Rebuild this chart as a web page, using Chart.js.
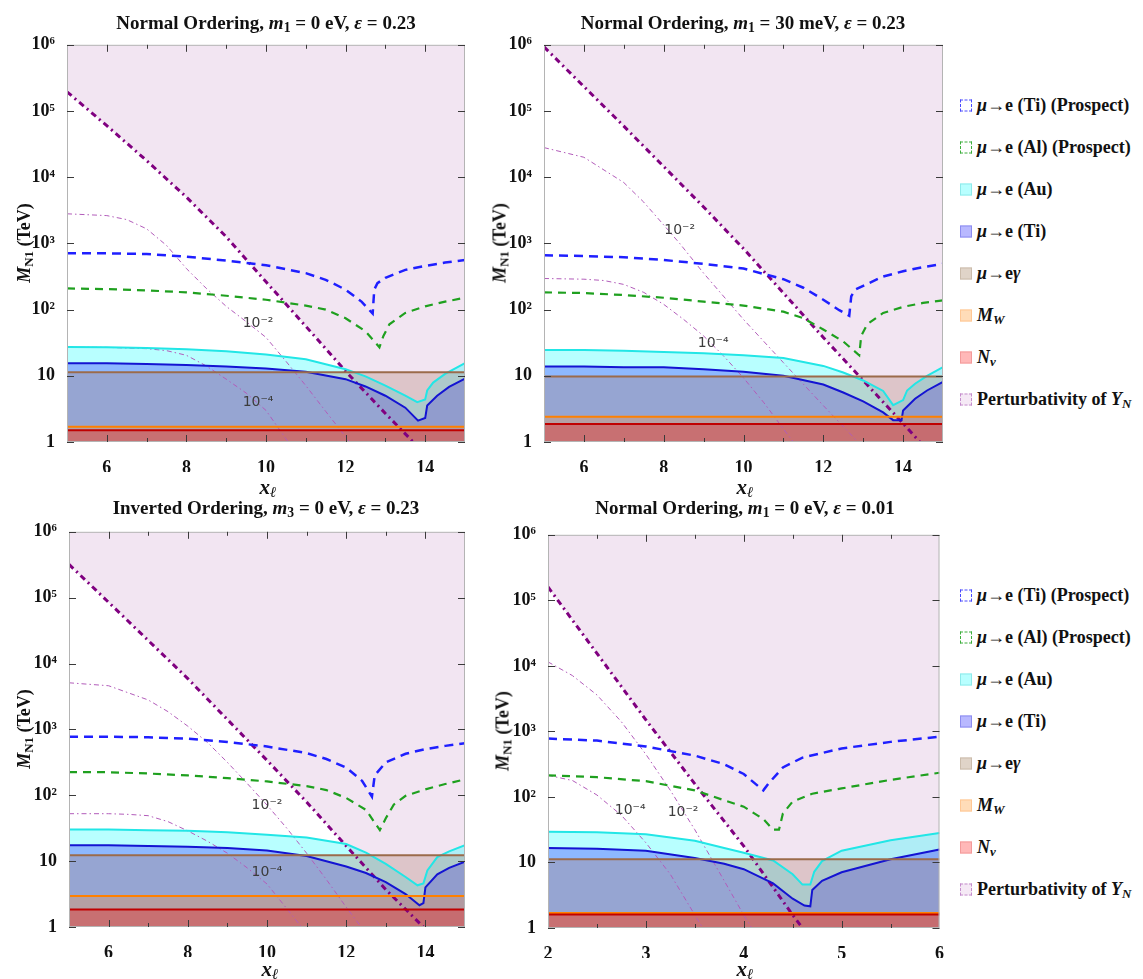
<!DOCTYPE html>
<html>
<head>
<meta charset="utf-8">
<script src="https://cdn.jsdelivr.net/npm/chart.js@4.4.1/dist/chart.umd.min.js"></script>
<style>
    body {
        margin: 0;
        width: 1143px;
        height: 979px;
        position: relative;
        overflow: hidden;
        background: #fff;
        color: #111;
        font-family: "Liberation Serif", "Times New Roman", serif;
        font-weight: bold;
    }
    canvas { position: absolute; }
    sub { font-size: 0.72em; vertical-align: -0.25em; line-height: 0; }
    .title { position: absolute; font-size: 19px; white-space: nowrap; transform: translate(-50%, -50%); }
    .ylab { position: absolute; font-size: 18px; white-space: nowrap; transform: translate(-50%, -50%) rotate(-90deg); }
    .xlab { position: absolute; font-size: 21px; font-style: italic; white-space: nowrap; transform: translate(-50%, -50%); }
    .item { position: absolute; left: 960px; font-size: 18px; white-space: nowrap; display: flex; align-items: center; transform: translateY(-50%); }
    .box { width: 12px; height: 12px; box-sizing: border-box; margin-right: 5px; }
</style>
</head>
<body>

<canvas id="c1" width="475" height="442" style="left:0px;top:30px"></canvas>
<canvas id="c2" width="476" height="442" style="left:477px;top:30px"></canvas>
<canvas id="c3" width="473" height="440" style="left:2px;top:517px"></canvas>
<canvas id="c4" width="471" height="438" style="left:481px;top:520px"></canvas>

<div class="title" style="left:266px;top:23px">Normal Ordering, <i>m</i><sub>1</sub> = 0 eV, <i>ε</i> = 0.23</div>
<div class="title" style="left:743px;top:23px">Normal Ordering, <i>m</i><sub>1</sub> = 30 meV, <i>ε</i> = 0.23</div>
<div class="title" style="left:266px;top:508px">Inverted Ordering, <i>m</i><sub>3</sub> = 0 eV, <i>ε</i> = 0.23</div>
<div class="title" style="left:745px;top:508px">Normal Ordering, <i>m</i><sub>1</sub> = 0 eV, <i>ε</i> = 0.01</div>

<div class="ylab" style="left:24px;top:243px"><i>M</i><sub>N1</sub> (TeV)</div>
<div class="ylab" style="left:500px;top:243px"><i>M</i><sub>N1</sub> (TeV)</div>
<div class="ylab" style="left:24px;top:729px"><i>M</i><sub>N1</sub> (TeV)</div>
<div class="ylab" style="left:503px;top:731px"><i>M</i><sub>N1</sub> (TeV)</div>

<div class="xlab" style="left:268px;top:487px">x<sub>ℓ</sub></div>
<div class="xlab" style="left:745px;top:487px">x<sub>ℓ</sub></div>
<div class="xlab" style="left:270px;top:969px">x<sub>ℓ</sub></div>
<div class="xlab" style="left:745px;top:969px">x<sub>ℓ</sub></div>

<script>
/* ===============================
   axes
=============================== */

const xTicksWide = [6, 8, 10, 12, 14];
const xMinorWide = [6, 7, 8, 9, 10, 11, 12, 13, 14];
const xTicksNarrow = [2, 3, 4, 5, 6];
const xMinorNarrow = [2.5, 3, 3.5, 4, 4.5, 5, 5.5];
const yTickValues = [1, 10, 100, 1e3, 1e4, 1e5, 1e6];
const yTickLabels = ["1", "10", "10²", "10³", "10⁴", "10⁵", "10⁶"];

/* ===============================
   panel 1 : NO, m1 = 0 eV, eps = 0.23
=============================== */

const p1Perturb = [[5, 1.95e5], [6, 6.0e4], [7, 1.78e4], [8, 5.0e3], [9, 1.26e3], [10, 263], [11, 56], [12, 11.7], [13, 2.7], [13.7, 1.0], [15, 0.14]];
const p1Contour2 = [[5, 2800], [6, 2630], [6.5, 2290], [7, 1660], [7.5, 933], [8, 417], [8.5, 209], [9, 112], [9.5, 66], [10, 38], [10.5, 16.6], [11, 7.1], [11.5, 2.9], [12, 1.2], [12.3, 0.7]];
const p1Contour4 = [[5, 26.9], [6, 26.9], [7, 25.7], [7.5, 24], [8, 20.4], [8.5, 14.1], [9, 8.9], [9.5, 5.5], [10, 3.0], [10.5, 1.12], [10.8, 0.63]];
const p1TiProspect = [[5, 708], [6, 708], [7, 692], [8, 631], [9, 550], [10, 468], [11, 355], [11.5, 282], [12, 200], [12.4, 132], [12.68, 87], [12.72, 200], [12.8, 251], [13, 302], [13.5, 398], [14, 457], [14.5, 513], [15, 562]];
const p1AlProspect = [[5, 209], [6, 204], [7, 195], [8, 182], [9, 162], [10, 141], [11, 115], [11.5, 100], [12, 74], [12.5, 47], [12.85, 27], [12.95, 40], [13.1, 60], [13.5, 89], [14, 112], [14.5, 132], [15, 151]];
const p1Au = [[5, 27.2], [6, 26.9], [7, 26.3], [8, 25.1], [9, 23.4], [10, 20.9], [11, 17.8], [12, 12.6], [12.5, 9.8], [13, 7.1], [13.5, 5.0], [13.8, 4.0], [14, 4.4], [14.05, 6.0], [14.2, 7.9], [14.5, 10.7], [15, 15.5]];
const p1Ti = [[5, 15.5], [6, 15.5], [7, 15.1], [8, 14.5], [9, 13.8], [10, 12.9], [11, 11.5], [12, 8.9], [12.5, 6.9], [13, 5.0], [13.5, 3.3], [13.82, 2.1], [14, 2.3], [14.05, 3.55], [14.3, 5.0], [14.6, 6.8], [15, 9.1]];
const p1Limits = [11.3, 1.7, 1.5];   // mu->e gamma, M_W, N_nu
const p1Tags = [[9.8, 63, "10⁻²"], [9.8, 4.0, "10⁻⁴"]];

/* ===============================
   panel 2 : NO, m1 = 30 meV, eps = 0.23
=============================== */

const p2Perturb = [[5, 9.3e5], [6, 2.34e5], [7, 5.9e4], [8, 1.45e4], [9, 3.55e3], [10, 832], [11, 178], [12, 38], [13, 8.5], [14, 1.9], [14.42, 1.0], [15, 0.42]];
const p2Contour2 = [[5, 2.8e4], [6, 2.0e4], [7, 8.3e3], [7.5, 4.2e3], [8, 1.9e3], [8.4, 1.0e3], [9, 355], [10, 71], [11, 15.8], [12, 3.55], [12.87, 1.0], [13.2, 0.63]];
const p2Contour4 = [[5, 295], [6, 288], [6.5, 275], [7, 240], [7.5, 182], [8, 120], [8.5, 71], [9, 40], [9.5, 20], [10, 9.3], [10.5, 4.0], [11, 1.58], [11.5, 0.63]];
const p2TiProspect = [[5, 661], [6, 646], [7, 617], [8, 562], [9, 490], [10, 417], [11, 288], [11.5, 214], [12, 141], [12.4, 98], [12.65, 81], [12.7, 158], [12.8, 200], [13, 229], [13.5, 316], [14, 380], [14.5, 437], [15, 490]];
const p2AlProspect = [[5, 182], [6, 178], [7, 166], [8, 151], [9, 132], [10, 115], [11, 93], [11.5, 74], [12, 50], [12.5, 33], [12.9, 20.4], [12.95, 40], [13.1, 60], [13.5, 89], [14, 110], [14.5, 126], [15, 138]];
const p2Au = [[5, 24.5], [6, 24.5], [7, 24], [8, 22.9], [9, 21.9], [10, 20.4], [11, 18.6], [12, 14.1], [12.5, 11.2], [13, 8.5], [13.5, 5.9], [13.75, 3.6], [14, 4.3], [14.1, 6.0], [14.3, 7.6], [14.6, 10], [15, 13.5]];
const p2Ti = [[5, 13.8], [6, 13.8], [7, 13.5], [8, 13.5], [9, 12.6], [10, 11.5], [11, 10], [12, 7.4], [12.5, 5.6], [13, 4.1], [13.5, 2.8], [13.75, 2.14], [13.96, 2.14], [14, 3.0], [14.3, 4.5], [14.6, 6.0], [15, 8.1]];
const p2Limits = [9.8, 2.4, 1.87];
const p2Tags = [[8.4, 1550, "10⁻²"], [9.24, 31, "10⁻⁴"]];

/* ===============================
   panel 3 : IO, m3 = 0 eV, eps = 0.23
=============================== */

const p3Perturb = [[5, 3.2e5], [6, 8.5e4], [7, 2.24e4], [8, 5.9e3], [9, 1.41e3], [10, 339], [11, 79], [12, 17], [13, 3.7], [13.95, 1.0], [15, 0.22]];
const p3Contour2 = [[5, 5100], [6, 4600], [7, 2800], [7.5, 1860], [8, 1120], [8.5, 631], [9, 316], [9.5, 151], [10, 71], [10.5, 31.6], [11, 13.2], [11.5, 5.25], [12, 2.0], [12.5, 0.8]];
const p3Contour4 = [[5, 52.5], [6, 52.5], [6.5, 51.3], [7, 49], [7.5, 39.8], [8, 28.8], [8.5, 20], [9, 13.2], [9.5, 7.9], [10, 4.5], [10.5, 1.9], [11, 0.8]];
const p3TiProspect = [[5, 776], [6, 776], [7, 759], [8, 724], [9, 646], [10, 550], [11, 437], [11.5, 355], [12, 263], [12.4, 166], [12.65, 95], [12.72, 200], [13, 316], [13.5, 427], [14, 501], [14.5, 562], [15, 617]];
const p3AlProspect = [[5, 224], [6, 224], [7, 214], [8, 200], [9, 182], [10, 162], [11, 138], [11.5, 120], [12, 91], [12.5, 60], [12.85, 29.5], [13, 44.7], [13.2, 72], [13.5, 98], [14, 123], [14.5, 148], [15, 174]];
const p3Au = [[5, 30.2], [6, 30.2], [7, 29.5], [8, 28.8], [9, 27.5], [10, 25.1], [11, 22.9], [12, 18.2], [12.5, 13.5], [13, 9.1], [13.5, 5.75], [13.8, 4.3], [13.95, 4.6], [14.05, 7.2], [14.3, 11.5], [14.6, 14.1], [15, 17.4]];
const p3Ti = [[5, 17.4], [6, 17.4], [7, 17], [8, 16.6], [9, 15.8], [10, 14.5], [11, 12], [12, 8.3], [12.5, 6.6], [13, 4.8], [13.5, 3.16], [13.85, 2.14], [13.95, 2.3], [14, 4.0], [14.3, 6.3], [14.6, 7.9], [15, 9.8]];
const p3Limits = [12.3, 2.95, 1.85];
const p3Tags = [[10, 70, "10⁻²"], [10, 6.8, "10⁻⁴"]];

/* ===============================
   panel 4 : NO, m1 = 0 eV, eps = 0.01
=============================== */

const p4Perturb = [[2, 1.6e5], [2.5, 1.55e4], [3, 1.5e3], [3.5, 158], [4, 17.8], [4.5, 1.58], [4.6, 1.0], [5, 0.16], [6, 0.02]];
const p4Contour2 = [[2, 1.15e4], [2.25, 7.1e3], [2.5, 3.6e3], [2.75, 1.4e3], [3, 447], [3.25, 126], [3.5, 31.6], [3.75, 7.1], [4, 1.58], [4.1, 0.9]];
const p4Contour4 = [[2, 214], [2.25, 178], [2.5, 107], [2.75, 52.5], [3, 20], [3.25, 6.6], [3.5, 1.58], [3.6, 0.9]];
const p4TiProspect = [[2, 776], [2.5, 724], [3, 589], [3.5, 427], [3.8, 316], [4, 224], [4.15, 145], [4.2, 126], [4.25, 158], [4.4, 282], [4.6, 398], [5, 550], [5.5, 692], [6, 832]];
const p4AlProspect = [[2, 214], [2.5, 200], [3, 174], [3.5, 126], [3.8, 89], [4, 71], [4.2, 46], [4.3, 31.6], [4.36, 31.6], [4.4, 56], [4.5, 85], [4.7, 112], [5, 135], [5.5, 182], [6, 234]];
const p4Au = [[2, 29.5], [2.5, 28.8], [3, 26.9], [3.5, 21.4], [3.8, 16.6], [4, 14.1], [4.3, 10.7], [4.5, 6.6], [4.6, 4.6], [4.68, 4.6], [4.72, 7.2], [4.8, 10.5], [5, 15.1], [5.5, 21.9], [6, 28.2]];
const p4Ti = [[2, 16.6], [2.5, 16.2], [3, 15.1], [3.5, 11.7], [3.8, 9.55], [4, 7.9], [4.3, 4.8], [4.5, 2.8], [4.62, 2.2], [4.68, 2.14], [4.7, 3.8], [4.8, 5.25], [5, 7.1], [5.5, 11.2], [6, 15.8]];
const p4Limits = [11.2, 1.7, 1.6];
const p4Tags = [[2.84, 63, "10⁻⁴"], [3.38, 59, "10⁻²"]];

/* ===============================
   legend
=============================== */

const legendNames = [
    "<i>μ</i>→e (Ti) (Prospect)",
    "<i>μ</i>→e (Al) (Prospect)",
    "<i>μ</i>→e (Au)",
    "<i>μ</i>→e (Ti)",
    "<i>μ</i>→e<i>γ</i>",
    "<i>M<sub>W</sub></i>",
    "<i>N<sub>ν</sub></i>",
    "Perturbativity of <i>Y<sub>N</sub></i>"
];

const legendBoxes = [
    "background:#fff;border:1.5px dashed #4a4aff",
    "background:#fff;border:1.5px dashed #3cae3c",
    "background:#b8ffff;border:1px solid #8eeaea",
    "background:#b8b8ff;border:1px solid #8c8cf0",
    "background:#e0d4c8;border:1px solid #cbbcab",
    "background:#ffdcb8;border:1px solid #ffc794",
    "background:#ffb8b8;border:1px solid #f39a9a",
    "background:#f5e9f5;border:1.5px dashed #c48ccc"
];

[105, 595].forEach(top => {

    legendNames.forEach((name, i) => {

        const item = document.createElement("div");
        item.className = "item";
        item.style.top = (top + i * 42) + "px";
        item.innerHTML = '<div class="box" style="' + legendBoxes[i] + '"></div><span>' + name + "</span>";
        document.body.appendChild(item);

    });

});

/* ===============================
   plugins : frame with inside ticks, contour labels
=============================== */

const frameTicks = {

    id: "frameTicks",

    afterDatasetsDraw(chart, args, opts) {

        const { ctx, chartArea: a, scales } = chart;
        const seg = (x1, y1, x2, y2) => { ctx.beginPath(); ctx.moveTo(x1, y1); ctx.lineTo(x2, y2); ctx.stroke(); };

        ctx.save();

        ctx.strokeStyle = "#b4b4b4";
        ctx.lineWidth = 1;
        ctx.strokeRect(a.left + 0.5, a.top + 0.5, a.width - 1, a.height - 1);

        ctx.strokeStyle = "#3a3a3a";

        opts.xMinor.forEach(v => {
            const px = Math.round(scales.x.getPixelForValue(v)) + 0.5;
            const len = opts.xMajor.includes(v) ? 7 : 4;
            seg(px, a.bottom, px, a.bottom - len);
            seg(px, a.top, px, a.top + len);
        });

        yTickValues.forEach(v => {
            const py = Math.round(scales.y.getPixelForValue(v)) + 0.5;
            seg(a.left, py, a.left + 7, py);
            seg(a.right, py, a.right - 7, py);
        });

        ctx.restore();
    }
};

const contourTags = {

    id: "contourTags",

    afterDatasetsDraw(chart, args, opts) {

        const { ctx, scales } = chart;

        ctx.save();
        ctx.font = "14px 'DejaVu Sans', sans-serif";
        ctx.fillStyle = "#3c3c3c";
        ctx.textAlign = "center";
        ctx.textBaseline = "middle";

        opts.items.forEach(t => {
            ctx.fillText(t[2], scales.x.getPixelForValue(t[0]), scales.y.getPixelForValue(t[1]));
        });

        ctx.restore();
    }
};

/* ===============================
   charts
=============================== */

function series(points, color, width, dash, fill, bg) {

    return {
        data: points.map(p => ({ x: p[0], y: p[1] })),
        borderColor: color,
        borderWidth: width,
        borderDash: dash,
        fill: fill,
        backgroundColor: bg,
        pointRadius: 0,
        tension: 0,
        clip: 0
    };
}

function buildPanel(id, xMin, xMax, xMajor, xMinor, d) {

    const flat = v => [[xMin, v], [xMax, v]];
    const serif = "'Liberation Serif', 'Times New Roman', serif";

    new Chart(document.getElementById(id), {

        type: "line",

        data: {
            datasets: [
                series(flat(d.limits[2]), "#c00000", 2, [], "start", "rgba(230,40,40,0.4)"),
                series(flat(d.limits[1]), "#ff8000", 2, [], "start", "rgba(255,150,60,0.3)"),
                series(flat(d.limits[0]), "#9b6b4b", 2, [], "start", "rgba(172,122,105,0.3)"),
                series(d.ti, "#1414d2", 2, [], "start", "rgba(40,20,255,0.3)"),
                series(d.au, "#22e6e6", 2, [], "start", "rgba(0,255,255,0.28)"),
                series(d.tiProspect, "#1f1fff", 2.5, [9, 6], false, "transparent"),
                series(d.alProspect, "#1fa01f", 2.2, [8, 6], false, "transparent"),
                series(d.contour2, "#b25cba", 1, [5, 3, 1.5, 3], false, "transparent"),
                series(d.contour4, "#b25cba", 1, [5, 3, 1.5, 3], false, "transparent"),
                series(d.perturb, "#800080", 3, [6, 4, 2, 4], "end", "rgba(128,0,128,0.1)")
            ]
        },

        options: {
            responsive: false,
            devicePixelRatio: 1,
            animation: false,
            layout: { padding: { left: 0, top: 14, right: 10, bottom: 0 } },
            plugins: {
                legend: { display: false },
                tooltip: { enabled: false },
                filler: { drawTime: "beforeDatasetsDraw" },
                frameTicks: { xMajor: xMajor, xMinor: xMinor },
                contourTags: { items: d.tags }
            },
            scales: {
                x: {
                    type: "linear",
                    min: xMin,
                    max: xMax,
                    grid: { display: false },
                    border: { display: false },
                    afterBuildTicks: s => { s.ticks = xMajor.map(v => ({ value: v })); },
                    afterFit: s => { s.height = 30; },
                    ticks: {
                        padding: 8,
                        color: "#111",
                        maxRotation: 0,
                        autoSkip: false,
                        font: { family: serif, size: 18, weight: "bold" }
                    }
                },
                y: {
                    type: "logarithmic",
                    min: 1,
                    max: 1e6,
                    grid: { display: false },
                    border: { display: false },
                    afterBuildTicks: s => { s.ticks = yTickValues.map(v => ({ value: v })); },
                    afterFit: s => { s.width = 67; },
                    ticks: {
                        padding: 4,
                        color: "#111",
                        autoSkip: false,
                        font: { family: serif, size: 18, weight: "bold" },
                        callback: (v, i) => yTickLabels[i]
                    }
                }
            }
        },

        plugins: [frameTicks, contourTags]
    });
}

buildPanel("c1", 5, 15, xTicksWide, xMinorWide, {
    perturb: p1Perturb, contour2: p1Contour2, contour4: p1Contour4,
    tiProspect: p1TiProspect, alProspect: p1AlProspect, au: p1Au, ti: p1Ti,
    limits: p1Limits, tags: p1Tags
});

buildPanel("c2", 5, 15, xTicksWide, xMinorWide, {
    perturb: p2Perturb, contour2: p2Contour2, contour4: p2Contour4,
    tiProspect: p2TiProspect, alProspect: p2AlProspect, au: p2Au, ti: p2Ti,
    limits: p2Limits, tags: p2Tags
});

buildPanel("c3", 5, 15, xTicksWide, xMinorWide, {
    perturb: p3Perturb, contour2: p3Contour2, contour4: p3Contour4,
    tiProspect: p3TiProspect, alProspect: p3AlProspect, au: p3Au, ti: p3Ti,
    limits: p3Limits, tags: p3Tags
});

buildPanel("c4", 2, 6, xTicksNarrow, xMinorNarrow, {
    perturb: p4Perturb, contour2: p4Contour2, contour4: p4Contour4,
    tiProspect: p4TiProspect, alProspect: p4AlProspect, au: p4Au, ti: p4Ti,
    limits: p4Limits, tags: p4Tags
});
</script>
</body>
</html>
